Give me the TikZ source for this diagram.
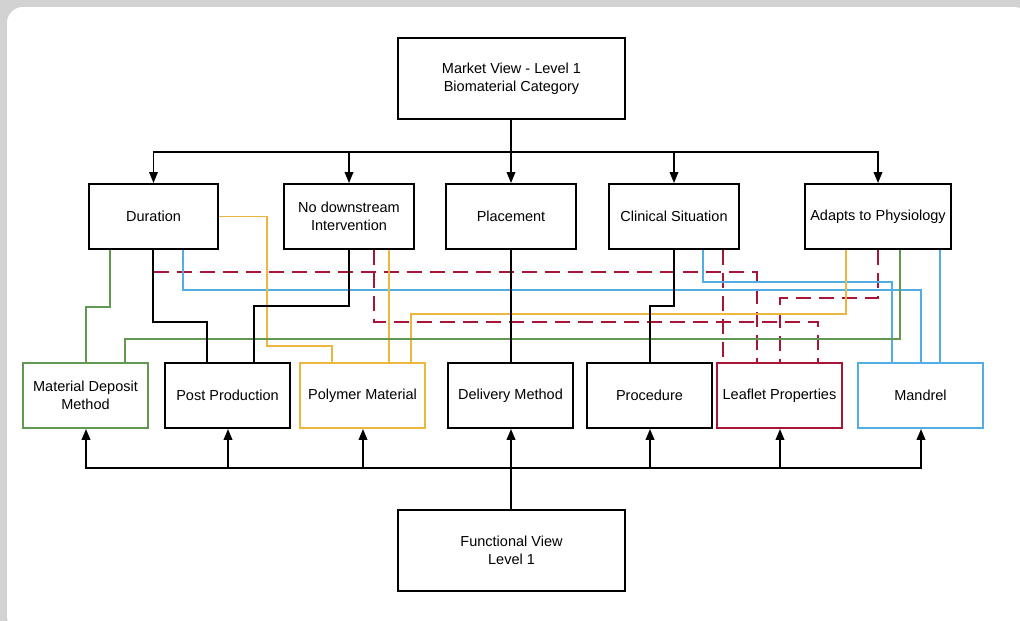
\documentclass[tikz,border=0pt]{standalone}
\usepackage{fontspec}
\setmainfont{Liberation Sans}
\usetikzlibrary{arrows.meta}
\definecolor{cgreen}{RGB}{98,153,82}
\definecolor{corange}{RGB}{236,182,63}
\definecolor{cblue}{RGB}{82,174,226}
\definecolor{cred}{RGB}{168,22,55}
\definecolor{frame}{RGB}{210,210,210}
\tikzset{
  box/.style={draw=#1, line width=1.8pt, fill=white, align=center,
    font=\fontsize{14.5}{18}\selectfont, inner sep=2pt},
  box/.default=black,
  bigbox/.style={box, minimum width=227pt, minimum height=81pt},
  topbox/.style={box, minimum height=65pt},
  botbox/.style={box=#1, minimum width=125pt, minimum height=65pt},
  botbox/.default=black,
  tip/.style={-{Triangle[length=11pt,width=8.5pt]}},
  blk/.style={line width=1.8pt, black},
  grn/.style={line width=1.8pt, cgreen},
  org/.style={line width=1.8pt, corange},
  blu/.style={line width=1.8pt, cblue},
  rdd/.style={line width=1.8pt, cred, dash pattern=on 15pt off 8pt},
}
\begin{document}
\begin{tikzpicture}[x=1pt,y=-1pt]
  % page frame
  \useasboundingbox (0,0) rectangle (1020,621);
  \clip (0,0) rectangle (1020,621);
  \fill[frame] (0,0) rectangle (1020,621);
  \fill[white, rounded corners=16pt] (7,7) rectangle (1030,632);

  % boxes
  \node[bigbox] (mkt) at (511.5,78.5) {Market View - Level 1\\Biomaterial Category};
  \node[bigbox] (fun) at (511.5,550.5) {Functional View\\Level 1};

  \node[topbox, minimum width=129pt] (dur) at (153.5,216.5) {Duration};
  \node[topbox, minimum width=130pt] (nod) at (349,216.5) {No downstream\\Intervention};
  \node[topbox, minimum width=130pt] (pla) at (511,216.5) {Placement};
  \node[topbox, minimum width=130pt] (cli) at (674,216.5) {Clinical Situation};
  \node[topbox, minimum width=146pt] (ada) at (878,216.5) {Adapts to Physiology};

  \node[botbox=cgreen] (mdm) at (85.5,395.5) {Material Deposit\\Method};
  \node[botbox] (pp) at (227.5,395.5) {Post Production};
  \node[botbox=corange] (pol) at (362.5,395.5) {Polymer Material};
  \node[botbox] (del) at (510.5,395.5) {Delivery Method};
  \node[botbox] (pro) at (649.5,395.5) {Procedure};
  \node[botbox=cred] (lea) at (779.5,395.5) {Leaflet Properties};
  \node[botbox=cblue] (man) at (920.5,395.5) {Mandrel};

  % top distribution bus
  \coordinate (tb) at (511,152);
  \draw[blk] (511,0 |- mkt.south) -- (tb);
  \foreach \n in {dur,nod,pla,cli,ada}
    \draw[blk, tip] (tb) -| (\n.north);

  % bottom distribution bus
  \coordinate (bb) at (511,468);
  \draw[line width=2.6pt] (511,0 |- fun.north) -- (bb);
  \foreach \n/\x in {mdm/86,pp/228,pol/363,del/511,pro/650,lea/780,man/921}
    \draw[line width=2pt, tip] (bb) -| (\x,0 |- \n.south);

  % red dashed links to Leaflet Properties
  \draw[rdd] (dur.south |- 0,271.7) -| (757,0 |- lea.north);
  \draw[rdd] (374,0 |- nod.south) |- (818,322) -- (818,0 |- lea.north);
  \draw[rdd] (723,0 |- cli.south) -- (723,0 |- lea.north);
  \draw[rdd] (878,0 |- ada.south) |- (780,298) -- (780,0 |- lea.north);

  % blue links to Mandrel
  \draw[blu] (182.7,0 |- dur.south) |- (921,290) -- (921,0 |- man.north);
  \draw[blu] (703,0 |- cli.south) |- (892,282) -- (892,0 |- man.north);
  \draw[blu] (940,0 |- ada.south) -- (940,0 |- man.north);

  % orange links to Polymer Material
  \draw[org] (dur.east) -| (267,346) -| (332,0 |- pol.north);
  \draw[org] (389,0 |- nod.south) -- (389,0 |- pol.north);
  \draw[org] (846,0 |- ada.south) |- (411,314) -- (411,0 |- pol.north);

  % green links to Material Deposit Method
  \draw[grn] (110,0 |- dur.south) |- (86,306.7) -- (86,0 |- mdm.north);
  \draw[grn] (900,0 |- ada.south) |- (125,339) -- (125,0 |- mdm.north);

  % black links
  \draw[blk] (153,0 |- dur.south) |- (207,322) -- (207,0 |- pp.north);
  \draw[blk] (nod.south) |- (254,306) -- (254,0 |- pp.north);
  \draw[blk] (511,0 |- pla.south) -- (511,0 |- del.north);
  \draw[blk] (cli.south) |- (650,306) -- (650,0 |- pro.north);
\end{tikzpicture}
\end{document}
